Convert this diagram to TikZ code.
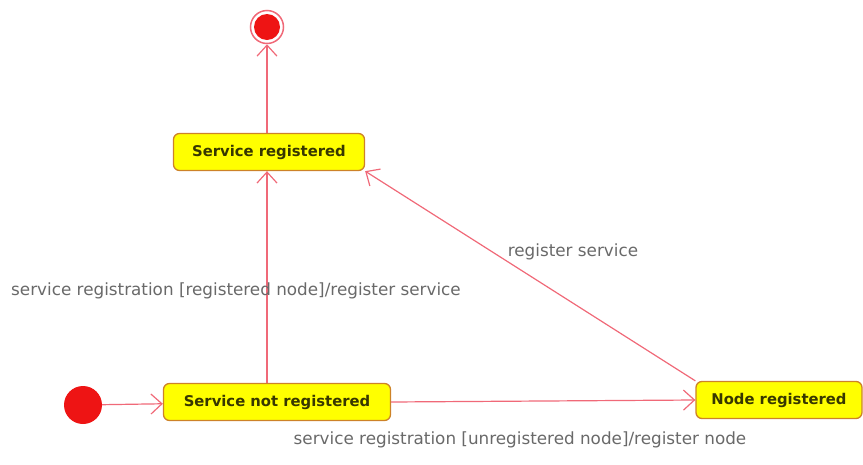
\documentclass[tikz,border=0pt]{standalone}
\usepackage{fontspec}
\setmainfont{DejaVu Sans}
\definecolor{stateyellow}{RGB}{255,255,0}
\definecolor{stateborder}{RGB}{205,130,40}
\definecolor{statetext}{RGB}{55,55,0}
\definecolor{transred}{RGB}{240,105,120}
\definecolor{labelgray}{RGB}{105,105,105}
\definecolor{dotred}{RGB}{238,20,20}
\usetikzlibrary{arrows.meta,positioning}

\begin{document}
\begin{tikzpicture}[
    x=1pt, y=-1pt,
    state/.style={draw=stateborder, line width=1.3pt, rounded corners=6pt, fill=stateyellow, minimum height=37pt, inner xsep=10pt, font=\fontsize{14.8}{16}\selectfont\bfseries, text=statetext},
    startdot/.style={circle, fill=dotred, minimum size=38pt, inner sep=0pt},
    enddot/.style={circle, draw=transred, line width=1.5pt, fill=white, minimum size=33pt, inner sep=0pt},
    trans/.style={-{Straight Barb[length=11pt,width=20pt]}, transred, line width=1.2pt},
    lbl/.style={font=\fontsize{16.8}{18}\selectfont, text=labelgray}
]
    \useasboundingbox (0,0) rectangle (863,464);

    % states
    \node[startdot] (init) at (83,405) {};
    \node[state, minimum width=227pt] (snr) at (277,402) {Service not registered};
    \node[state, minimum width=166pt] (nr) at (779,400) {Node registered};
    \node[state, minimum width=191pt] (sr) at (269,152) {Service registered};
    \node[enddot] (final) at (267,27) {};
    \node[circle, fill=dotred, minimum size=26pt, inner sep=0pt] (finalin) at (final) {};

    % transitions
    \draw[trans] (init) -- (snr);
    \draw[trans] (snr.east) -- (nr.west);
    \draw[trans] (snr.north -| final) -- (sr.south -| final);
    \draw[trans] (nr.north west) -- (sr.south east);
    \draw[trans] (sr.north -| final) -- (final);

    % labels
    \node[lbl] (l1) at (236,291) {service registration [registered node]/register service};
    \node[lbl] (l2) at (573,252) {register service};
    \node[lbl] (l3) at (520,440) {service registration [unregistered node]/register node};
\end{tikzpicture}
\end{document}
